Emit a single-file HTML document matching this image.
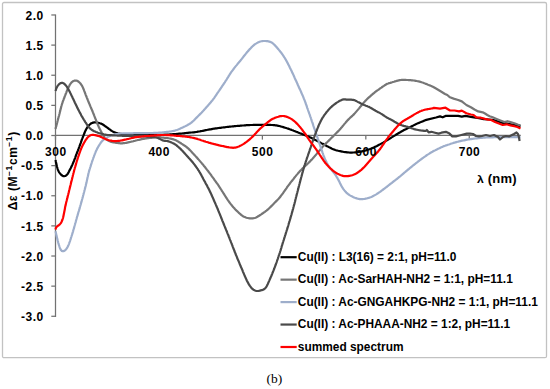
<!DOCTYPE html><html><head><meta charset="utf-8"><style>html,body{margin:0;padding:0;background:#fff;width:550px;height:389px;overflow:hidden}svg{display:block}</style></head><body>
<svg width="550" height="389" viewBox="0 0 550 389">
<rect x="0" y="0" width="550" height="389" fill="#fff"/>
<rect x="2.5" y="2.5" width="544" height="355.2" rx="1.5" fill="none" stroke="#c2c2c2" stroke-width="1.3"/>
<g stroke="#727272" stroke-width="1.25" fill="none">
<line x1="55.5" y1="14.38" x2="55.5" y2="316.88"/>
<line x1="51.3" y1="14.98" x2="55.5" y2="14.98"/>
<line x1="51.3" y1="45.11" x2="55.5" y2="45.11"/>
<line x1="51.3" y1="75.24" x2="55.5" y2="75.24"/>
<line x1="51.3" y1="105.37" x2="55.5" y2="105.37"/>
<line x1="51.3" y1="135.50" x2="55.5" y2="135.50"/>
<line x1="51.3" y1="165.63" x2="55.5" y2="165.63"/>
<line x1="51.3" y1="195.76" x2="55.5" y2="195.76"/>
<line x1="51.3" y1="225.89" x2="55.5" y2="225.89"/>
<line x1="51.3" y1="256.02" x2="55.5" y2="256.02"/>
<line x1="51.3" y1="286.15" x2="55.5" y2="286.15"/>
<line x1="51.3" y1="316.28" x2="55.5" y2="316.28"/>
<line x1="55.5" y1="135.4" x2="520.8" y2="135.4"/>
<line x1="55.50" y1="135.4" x2="55.50" y2="139.6"/>
<line x1="158.94" y1="135.4" x2="158.94" y2="139.6"/>
<line x1="262.38" y1="135.4" x2="262.38" y2="139.6"/>
<line x1="365.82" y1="135.4" x2="365.82" y2="139.6"/>
<line x1="469.26" y1="135.4" x2="469.26" y2="139.6"/>
</g>
<g fill="none" stroke-width="2.2" stroke-linejoin="round" stroke-linecap="butt">
<path d="M55.5,160.0 L55.8,161.2 L55.9,162.0 L56.1,162.9 L56.4,163.9 L56.6,164.9 L56.8,165.9 L57.0,166.8 L57.3,167.8 L57.6,168.8 L57.9,169.7 L58.3,170.6 L58.7,171.5 L59.2,172.4 L59.8,173.2 L60.4,173.9 L61.1,174.7 L61.8,175.3 L62.6,175.8 L63.4,176.2 L64.3,176.2 L65.2,176.0 L66.0,175.6 L66.7,175.0 L67.4,174.3 L67.9,173.5 L68.4,172.6 L68.9,171.7 L69.3,170.8 L69.8,169.9 L70.2,169.1 L70.7,168.2 L71.1,167.3 L71.6,166.4 L72.0,165.5 L72.4,164.6 L72.8,163.6 L73.2,162.7 L73.6,161.8 L74.0,160.9 L74.3,159.9 L74.7,159.0 L75.1,158.1 L75.4,157.1 L75.7,156.2 L76.1,155.3 L76.4,154.3 L76.8,153.4 L77.1,152.4 L77.5,151.5 L77.9,150.6 L78.2,149.6 L78.6,148.7 L78.9,147.8 L79.3,146.8 L79.6,145.9 L80.0,145.0 L80.3,144.0 L80.7,143.1 L81.0,142.1 L81.3,141.2 L81.7,140.3 L82.0,139.3 L82.4,138.4 L82.7,137.5 L83.1,136.5 L83.5,135.6 L83.8,134.7 L84.2,133.7 L84.6,132.8 L84.9,131.9 L85.3,131.0 L85.8,130.1 L86.2,129.2 L86.7,128.3 L87.2,127.5 L87.8,126.6 L88.4,125.9 L89.1,125.1 L89.8,124.5 L90.6,123.8 L91.4,123.3 L92.3,122.9 L93.2,122.6 L94.2,122.4 L95.2,122.3 L96.2,122.4 L97.2,122.5 L98.1,122.7 L99.1,123.0 L100.0,123.3 L101.0,123.6 L101.9,124.0 L102.8,124.5 L103.6,125.0 L104.4,125.6 L105.2,126.2 L106.0,126.7 L106.9,127.3 L107.7,127.9 L108.4,128.5 L109.2,129.1 L110.1,129.7 L110.9,130.3 L111.7,130.9 L112.6,131.4 L113.4,131.8 L114.3,132.3 L115.3,132.6 L116.2,133.0 L117.2,133.2 L118.1,133.5 L119.1,133.6 L120.1,133.8 L121.1,133.9 L122.1,134.0 L123.1,134.0 L124.1,134.1 L125.1,134.1 L126.1,134.2 L127.1,134.2 L128.1,134.2 L129.1,134.3 L130.1,134.3 L131.1,134.3 L132.1,134.4 L133.1,134.4 L134.1,134.4 L135.1,134.4 L136.1,134.4 L137.1,134.5 L138.1,134.5 L139.1,134.5 L140.1,134.5 L141.1,134.5 L142.1,134.5 L143.1,134.6 L144.1,134.6 L145.1,134.6 L146.1,134.6 L147.1,134.7 L148.1,134.7 L149.1,134.7 L150.1,134.8 L151.1,134.8 L152.1,134.8 L153.1,134.9 L154.1,134.9 L155.1,134.9 L156.1,134.9 L157.1,134.9 L158.1,134.9 L159.1,134.9 L160.1,134.9 L161.1,134.9 L162.1,134.8 L163.1,134.8 L164.1,134.7 L165.1,134.7 L166.1,134.6 L167.1,134.6 L168.1,134.5 L169.1,134.5 L170.1,134.4 L171.1,134.3 L172.1,134.3 L173.1,134.2 L174.1,134.1 L175.1,134.0 L176.0,134.0 L177.0,133.9 L178.0,133.8 L179.0,133.7 L180.0,133.6 L181.0,133.6 L182.0,133.5 L183.0,133.4 L184.0,133.3 L185.0,133.1 L186.0,133.0 L187.0,132.9 L188.0,132.8 L189.0,132.7 L190.0,132.6 L191.0,132.5 L192.0,132.5 L193.0,132.4 L194.0,132.3 L195.0,132.2 L195.9,132.0 L196.9,131.9 L197.9,131.7 L198.9,131.5 L199.9,131.4 L200.9,131.2 L201.8,131.0 L202.8,130.8 L203.8,130.6 L204.8,130.4 L205.8,130.2 L206.8,130.0 L207.7,129.8 L208.7,129.6 L209.7,129.4 L210.7,129.3 L211.7,129.1 L212.7,128.9 L213.6,128.7 L214.6,128.6 L215.6,128.4 L216.6,128.3 L217.6,128.2 L218.6,128.0 L219.6,127.9 L220.6,127.8 L221.6,127.6 L222.6,127.5 L223.5,127.4 L224.5,127.3 L225.5,127.2 L226.5,127.0 L227.5,126.9 L228.5,126.8 L229.5,126.7 L230.5,126.6 L231.5,126.5 L232.5,126.4 L233.5,126.3 L234.5,126.2 L235.5,126.1 L236.5,126.0 L237.5,125.9 L238.5,125.9 L239.5,125.8 L240.5,125.7 L241.5,125.6 L242.5,125.5 L243.5,125.5 L244.4,125.4 L245.4,125.3 L246.4,125.2 L247.4,125.2 L248.4,125.1 L249.4,125.1 L250.4,125.0 L251.4,125.0 L252.4,125.0 L253.4,124.9 L254.4,124.9 L255.4,124.9 L256.4,124.9 L257.4,124.8 L258.4,124.8 L259.4,124.8 L260.4,124.8 L261.4,124.8 L262.4,124.8 L263.4,124.8 L264.4,124.9 L265.4,124.9 L266.4,124.9 L267.4,124.9 L268.4,124.9 L269.4,124.9 L270.4,124.9 L271.4,125.0 L272.4,125.0 L273.4,125.1 L274.4,125.2 L275.4,125.3 L276.4,125.4 L277.4,125.6 L278.4,125.8 L279.3,126.0 L280.3,126.3 L281.3,126.6 L282.2,126.8 L283.2,127.1 L284.1,127.4 L285.1,127.7 L286.1,128.0 L287.0,128.3 L288.0,128.6 L288.9,128.9 L289.8,129.3 L290.8,129.6 L291.7,130.0 L292.7,130.3 L293.6,130.7 L294.5,131.0 L295.5,131.4 L296.4,131.8 L297.3,132.1 L298.2,132.5 L299.2,132.9 L300.1,133.3 L301.0,133.6 L302.0,134.0 L302.9,134.4 L303.8,134.7 L304.8,135.1 L305.7,135.4 L306.6,135.8 L307.6,136.2 L308.5,136.6 L309.4,137.0 L310.3,137.4 L311.2,137.8 L312.1,138.3 L313.0,138.7 L313.9,139.2 L314.7,139.7 L315.6,140.1 L316.5,140.6 L317.4,141.1 L318.3,141.5 L319.2,142.0 L320.1,142.4 L320.9,142.9 L321.8,143.4 L322.7,143.8 L323.6,144.3 L324.5,144.8 L325.4,145.2 L326.3,145.7 L327.1,146.2 L328.0,146.6 L328.9,147.1 L329.8,147.6 L330.7,148.0 L331.6,148.5 L332.5,148.9 L333.4,149.3 L334.3,149.6 L335.3,150.0 L336.2,150.3 L337.2,150.5 L338.2,150.8 L339.1,151.0 L340.1,151.2 L341.1,151.4 L342.1,151.6 L343.0,151.8 L344.0,152.0 L345.0,152.1 L346.0,152.2 L347.0,152.4 L348.0,152.4 L349.0,152.5 L350.0,152.6 L351.0,152.6 L352.0,152.6 L353.0,152.5 L354.0,152.5 L355.0,152.4 L356.0,152.3 L357.0,152.2 L358.0,152.1 L359.0,152.0 L359.9,151.8 L360.9,151.6 L361.9,151.4 L362.9,151.2 L363.9,151.0 L364.8,150.7 L365.8,150.4 L366.7,150.1 L367.7,149.8 L368.6,149.5 L369.6,149.2 L370.5,148.8 L371.4,148.5 L372.4,148.1 L373.3,147.7 L374.2,147.3 L375.1,146.8 L376.0,146.4 L376.9,146.0 L377.8,145.5 L378.7,145.0 L379.5,144.6 L380.4,144.1 L381.3,143.6 L382.2,143.1 L383.1,142.6 L383.9,142.1 L384.8,141.6 L385.6,141.1 L386.5,140.6 L387.3,140.1 L388.2,139.5 L389.0,139.0 L389.9,138.5 L390.7,138.0 L391.6,137.4 L392.5,136.9 L393.3,136.4 L394.2,135.9 L395.0,135.4 L395.9,134.8 L396.7,134.3 L397.6,133.8 L398.4,133.3 L399.3,132.8 L400.2,132.3 L401.0,131.8 L401.9,131.3 L402.8,130.8 L403.6,130.3 L404.5,129.8 L405.4,129.4 L406.3,129.0 L407.2,128.5 L408.1,128.1 L409.0,127.6 L409.9,127.2 L410.8,126.7 L411.7,126.3 L412.6,125.8 L413.5,125.4 L414.4,124.9 L415.3,124.5 L416.2,124.1 L417.1,123.6 L418.0,123.2 L418.9,122.9 L419.8,122.5 L420.8,122.1 L421.7,121.7 L422.6,121.4 L423.5,121.0 L424.4,120.6 L425.2,120.3 L426.3,119.9 L436.00,117.50 L440.00,116.40 L442.70,117.30 L445.50,115.90 L450.90,115.90 L458.20,115.90 L461.80,116.60 L465.50,115.90 L470.90,116.80 L475.50,117.70 L479.10,118.20 L483.60,119.10 L489.10,119.50 L492.70,119.80 L500.40,122.30 L508.10,123.90 L515.80,125.40 L520.50,126.40" stroke="#000000"/>
<path d="M55.5,129.0 L55.8,127.8 L56.0,127.0 L56.3,126.1 L56.5,125.1 L56.8,124.2 L57.0,123.2 L57.3,122.2 L57.5,121.3 L57.8,120.3 L58.0,119.3 L58.3,118.4 L58.5,117.4 L58.8,116.4 L59.1,115.5 L59.3,114.5 L59.6,113.5 L59.8,112.6 L60.0,111.6 L60.3,110.6 L60.5,109.6 L60.8,108.7 L61.0,107.7 L61.2,106.7 L61.5,105.8 L61.8,104.8 L62.1,103.8 L62.4,102.9 L62.7,101.9 L63.0,101.0 L63.4,100.1 L63.7,99.1 L64.1,98.2 L64.5,97.3 L64.8,96.3 L65.2,95.4 L65.5,94.5 L65.9,93.5 L66.3,92.6 L66.6,91.7 L67.0,90.7 L67.4,89.8 L67.8,88.9 L68.2,88.0 L68.6,87.1 L69.1,86.2 L69.5,85.3 L70.0,84.5 L70.6,83.6 L71.2,82.8 L71.9,82.1 L72.6,81.5 L73.5,81.0 L74.3,80.7 L75.3,80.5 L76.2,80.6 L77.1,80.8 L77.9,81.3 L78.7,81.8 L79.5,82.5 L80.2,83.2 L80.8,84.0 L81.4,84.8 L81.9,85.6 L82.4,86.5 L82.8,87.4 L83.2,88.3 L83.6,89.2 L84.0,90.1 L84.3,91.1 L84.7,92.0 L85.0,93.0 L85.4,93.9 L85.7,94.8 L86.1,95.8 L86.5,96.7 L86.8,97.6 L87.2,98.5 L87.6,99.5 L87.9,100.4 L88.3,101.3 L88.7,102.3 L89.1,103.2 L89.5,104.1 L89.8,105.0 L90.2,105.9 L90.6,106.9 L91.0,107.8 L91.4,108.7 L91.8,109.6 L92.2,110.5 L92.6,111.5 L92.9,112.4 L93.3,113.3 L93.7,114.3 L94.1,115.2 L94.4,116.1 L94.8,117.1 L95.1,118.0 L95.5,118.9 L95.9,119.8 L96.2,120.8 L96.6,121.7 L97.0,122.6 L97.3,123.6 L97.7,124.5 L98.1,125.4 L98.5,126.3 L98.9,127.2 L99.3,128.1 L99.8,129.0 L100.2,129.9 L100.7,130.8 L101.2,131.7 L101.7,132.6 L102.2,133.4 L102.7,134.3 L103.2,135.1 L103.8,136.0 L104.3,136.8 L104.9,137.6 L105.6,138.4 L106.2,139.1 L107.0,139.7 L107.8,140.3 L108.6,140.8 L109.5,141.2 L110.5,141.6 L111.4,141.9 L112.4,142.1 L113.4,142.3 L114.3,142.5 L115.3,142.7 L116.3,142.9 L117.3,143.0 L118.3,143.1 L119.3,143.2 L120.3,143.3 L121.3,143.3 L122.3,143.3 L123.3,143.2 L124.3,143.1 L125.2,143.0 L126.2,142.8 L127.2,142.6 L128.2,142.4 L129.2,142.2 L130.1,142.0 L131.1,141.7 L132.1,141.5 L133.1,141.3 L134.0,141.0 L135.0,140.8 L136.0,140.5 L136.9,140.3 L137.9,140.0 L138.9,139.8 L139.9,139.6 L140.8,139.4 L141.8,139.2 L142.8,139.0 L143.8,138.8 L144.8,138.7 L145.8,138.5 L146.7,138.4 L147.7,138.2 L148.7,138.1 L149.7,138.0 L150.7,137.9 L151.7,137.8 L152.7,137.7 L153.7,137.6 L154.7,137.5 L155.7,137.5 L156.7,137.4 L157.7,137.4 L158.7,137.4 L159.7,137.4 L160.7,137.4 L161.7,137.5 L162.7,137.6 L163.7,137.7 L164.7,137.8 L165.7,137.9 L166.7,138.0 L167.7,138.1 L168.6,138.3 L169.6,138.5 L170.6,138.7 L171.6,138.9 L172.5,139.1 L173.5,139.4 L174.4,139.7 L175.4,140.1 L176.3,140.5 L177.2,141.0 L178.0,141.4 L178.9,142.0 L179.7,142.5 L180.6,143.0 L181.4,143.6 L182.3,144.1 L183.1,144.7 L183.9,145.2 L184.8,145.8 L185.6,146.3 L186.4,146.9 L187.2,147.6 L187.9,148.2 L188.7,148.9 L189.4,149.6 L190.1,150.3 L190.8,151.0 L191.5,151.7 L192.1,152.5 L192.8,153.2 L193.5,153.9 L194.2,154.7 L194.9,155.4 L195.5,156.1 L196.2,156.9 L196.9,157.6 L197.5,158.4 L198.2,159.1 L198.9,159.9 L199.5,160.6 L200.2,161.4 L200.8,162.1 L201.5,162.9 L202.1,163.7 L202.8,164.4 L203.4,165.2 L204.0,166.0 L204.7,166.8 L205.3,167.5 L205.9,168.3 L206.5,169.1 L207.1,169.9 L207.8,170.7 L208.4,171.5 L209.0,172.3 L209.6,173.1 L210.2,173.9 L210.8,174.7 L211.4,175.5 L211.9,176.3 L212.5,177.1 L213.1,177.9 L213.7,178.7 L214.3,179.6 L214.8,180.4 L215.4,181.2 L216.0,182.0 L216.6,182.8 L217.2,183.6 L217.8,184.4 L218.3,185.2 L218.9,186.1 L219.4,186.9 L220.0,187.8 L220.5,188.6 L221.1,189.4 L221.6,190.3 L222.1,191.1 L222.7,192.0 L223.2,192.8 L223.7,193.7 L224.3,194.5 L224.8,195.4 L225.3,196.2 L225.9,197.1 L226.4,197.9 L226.9,198.7 L227.5,199.6 L228.1,200.4 L228.6,201.2 L229.2,202.0 L229.8,202.8 L230.4,203.6 L231.0,204.4 L231.7,205.2 L232.3,206.0 L232.9,206.7 L233.6,207.5 L234.3,208.2 L234.9,209.0 L235.6,209.7 L236.3,210.4 L237.1,211.1 L237.8,211.8 L238.5,212.5 L239.2,213.2 L240.0,213.8 L240.7,214.5 L241.5,215.1 L242.3,215.7 L243.1,216.2 L244.0,216.7 L244.9,217.1 L245.8,217.5 L246.8,217.8 L247.8,218.0 L248.7,218.2 L249.7,218.3 L250.7,218.4 L251.7,218.4 L252.7,218.3 L253.7,218.2 L254.6,218.0 L255.6,217.7 L256.5,217.3 L257.4,216.8 L258.2,216.3 L259.1,215.8 L259.9,215.2 L260.7,214.7 L261.6,214.1 L262.4,213.5 L263.2,213.0 L264.0,212.4 L264.9,211.8 L265.7,211.2 L266.5,210.6 L267.2,210.0 L268.0,209.4 L268.7,208.7 L269.5,208.0 L270.2,207.3 L270.9,206.6 L271.6,205.9 L272.3,205.2 L273.0,204.5 L273.7,203.7 L274.4,203.0 L275.1,202.3 L275.8,201.6 L276.5,200.9 L277.2,200.2 L277.9,199.5 L278.6,198.8 L279.3,198.0 L279.9,197.3 L280.5,196.5 L281.1,195.7 L281.7,194.9 L282.3,194.1 L282.9,193.3 L283.5,192.4 L284.0,191.6 L284.6,190.8 L285.2,190.0 L285.8,189.2 L286.4,188.3 L286.9,187.5 L287.5,186.7 L288.1,185.9 L288.7,185.1 L289.3,184.3 L289.9,183.5 L290.5,182.7 L291.1,181.9 L291.7,181.1 L292.4,180.4 L293.0,179.6 L293.6,178.8 L294.2,178.0 L294.8,177.2 L295.5,176.4 L296.1,175.6 L296.7,174.9 L297.4,174.1 L298.0,173.3 L298.7,172.6 L299.3,171.8 L300.0,171.1 L300.7,170.4 L301.4,169.7 L302.1,168.9 L302.8,168.2 L303.5,167.6 L304.2,166.9 L305.0,166.2 L305.7,165.5 L306.4,164.8 L307.2,164.1 L307.9,163.5 L308.6,162.8 L309.3,162.1 L310.0,161.4 L310.7,160.6 L311.4,159.9 L312.1,159.2 L312.8,158.4 L313.4,157.7 L314.1,156.9 L314.7,156.2 L315.4,155.4 L316.0,154.7 L316.7,153.9 L317.3,153.1 L318.0,152.4 L318.6,151.6 L319.3,150.8 L319.9,150.1 L320.5,149.3 L321.1,148.5 L321.8,147.7 L322.4,147.0 L323.1,146.3 L323.8,145.5 L324.5,144.8 L325.2,144.1 L325.9,143.4 L326.7,142.7 L327.4,142.0 L328.1,141.3 L328.8,140.6 L329.5,139.9 L330.2,139.2 L330.9,138.5 L331.6,137.8 L332.3,137.1 L333.0,136.4 L333.7,135.7 L334.5,135.0 L335.2,134.2 L335.9,133.5 L336.6,132.8 L337.3,132.1 L338.0,131.4 L338.7,130.7 L339.4,130.0 L340.0,129.2 L340.7,128.5 L341.3,127.7 L342.0,127.0 L342.6,126.2 L343.3,125.4 L343.9,124.6 L344.5,123.9 L345.2,123.1 L345.8,122.3 L346.5,121.6 L347.1,120.8 L347.8,120.1 L348.5,119.4 L349.2,118.7 L349.9,118.0 L350.6,117.3 L351.4,116.6 L352.2,116.0 L352.9,115.3 L353.6,114.6 L354.3,113.9 L355.0,113.1 L355.6,112.4 L356.3,111.6 L356.9,110.9 L357.6,110.1 L358.2,109.4 L358.9,108.6 L359.5,107.8 L360.1,107.0 L360.8,106.3 L361.4,105.5 L362.0,104.7 L362.6,103.9 L363.3,103.2 L363.9,102.4 L364.6,101.7 L365.3,100.9 L366.0,100.2 L366.7,99.5 L367.4,98.8 L368.1,98.1 L368.9,97.4 L369.6,96.8 L370.4,96.1 L371.1,95.4 L371.9,94.8 L372.6,94.1 L373.4,93.5 L374.2,92.9 L374.9,92.2 L375.7,91.6 L376.5,91.0 L377.4,90.4 L378.2,89.9 L379.0,89.3 L379.8,88.7 L380.6,88.1 L381.4,87.6 L382.2,87.0 L383.1,86.4 L383.9,85.9 L384.7,85.3 L385.6,84.8 L386.4,84.3 L387.3,83.8 L388.3,83.5 L389.2,83.1 L390.2,82.9 L391.1,82.6 L392.1,82.3 L393.0,82.0 L394.0,81.7 L394.9,81.4 L395.9,81.1 L396.8,80.8 L397.8,80.6 L398.8,80.4 L399.8,80.2 L400.7,80.0 L401.7,79.9 L402.7,79.8 L403.7,79.8 L404.7,79.8 L405.7,79.9 L406.7,80.0 L407.7,80.0 L408.7,80.1 L409.7,80.2 L410.7,80.2 L411.7,80.3 L412.7,80.4 L413.7,80.5 L414.7,80.6 L415.7,80.8 L416.7,81.0 L417.6,81.2 L418.6,81.4 L419.6,81.6 L420.5,81.9 L421.5,82.2 L422.4,82.5 L423.4,82.8 L424.3,83.2 L425.3,83.6 L426.2,83.9 L427.1,84.3 L428.0,84.7 L429.0,85.1 L429.9,85.4 L430.8,85.8 L431.6,86.1 L432.2,86.4 L432.9,86.7 L436.00,88.50 L441.00,91.50 L445.00,94.00 L447.30,95.00 L450.00,97.30 L453.60,98.60 L458.20,100.00 L461.80,101.40 L466.40,105.00 L470.90,107.30 L474.50,109.50 L478.20,111.40 L482.70,112.30 L485.00,113.50 L487.30,115.00 L489.60,116.20 L492.70,117.30 L496.60,118.90 L500.40,120.40 L504.30,122.00 L507.40,121.20 L511.20,122.30 L515.10,123.50 L518.20,124.70 L520.50,125.40" stroke="#767676"/>
<path d="M55.5,231.3 L55.8,232.5 L56.0,233.3 L56.2,234.2 L56.4,235.2 L56.6,236.2 L56.9,237.1 L57.1,238.1 L57.3,239.1 L57.6,240.1 L57.8,241.0 L58.1,242.0 L58.3,243.0 L58.6,243.9 L58.9,244.9 L59.2,245.8 L59.5,246.8 L59.8,247.7 L60.2,248.6 L60.6,249.5 L61.2,250.3 L61.8,250.9 L62.6,251.2 L63.4,251.2 L64.2,250.9 L65.0,250.3 L65.7,249.7 L66.4,248.9 L66.9,248.1 L67.4,247.3 L67.9,246.4 L68.3,245.5 L68.7,244.6 L69.1,243.6 L69.4,242.7 L69.8,241.7 L70.1,240.8 L70.4,239.8 L70.7,238.9 L71.0,237.9 L71.3,237.0 L71.6,236.0 L71.9,235.1 L72.2,234.1 L72.5,233.2 L72.8,232.2 L73.1,231.3 L73.3,230.3 L73.6,229.3 L73.9,228.4 L74.2,227.4 L74.4,226.4 L74.7,225.5 L75.0,224.5 L75.2,223.5 L75.5,222.6 L75.8,221.6 L76.0,220.7 L76.3,219.7 L76.6,218.7 L76.8,217.8 L77.1,216.8 L77.4,215.9 L77.7,214.9 L78.0,213.9 L78.2,213.0 L78.5,212.0 L78.8,211.1 L79.1,210.1 L79.4,209.1 L79.7,208.2 L79.9,207.2 L80.2,206.3 L80.5,205.3 L80.8,204.3 L81.0,203.4 L81.3,202.4 L81.6,201.4 L81.8,200.5 L82.1,199.5 L82.4,198.5 L82.6,197.6 L82.9,196.6 L83.1,195.7 L83.4,194.7 L83.6,193.7 L83.9,192.8 L84.2,191.8 L84.4,190.8 L84.7,189.8 L84.9,188.9 L85.2,187.9 L85.4,186.9 L85.7,186.0 L85.9,185.0 L86.1,184.0 L86.4,183.1 L86.6,182.1 L86.8,181.1 L87.0,180.1 L87.2,179.2 L87.4,178.2 L87.6,177.2 L87.9,176.2 L88.1,175.2 L88.3,174.3 L88.5,173.3 L88.8,172.3 L89.0,171.4 L89.3,170.4 L89.6,169.4 L89.9,168.5 L90.2,167.5 L90.5,166.6 L90.8,165.6 L91.1,164.7 L91.4,163.7 L91.7,162.8 L92.0,161.8 L92.3,160.9 L92.7,159.9 L93.0,159.0 L93.3,158.0 L93.7,157.1 L94.0,156.2 L94.4,155.2 L94.7,154.3 L95.1,153.4 L95.5,152.4 L95.8,151.5 L96.2,150.6 L96.7,149.7 L97.1,148.8 L97.6,147.9 L98.1,147.0 L98.6,146.2 L99.1,145.3 L99.6,144.5 L100.2,143.6 L100.7,142.8 L101.3,142.0 L102.0,141.2 L102.6,140.5 L103.4,139.9 L104.1,139.2 L104.9,138.6 L105.8,138.1 L106.6,137.6 L107.5,137.1 L108.4,136.7 L109.3,136.3 L110.3,135.9 L111.2,135.5 L112.1,135.2 L113.1,134.9 L114.1,134.7 L115.0,134.4 L116.0,134.2 L117.0,134.0 L118.0,133.9 L119.0,133.7 L120.0,133.6 L120.9,133.5 L121.9,133.5 L122.9,133.4 L123.9,133.4 L124.9,133.3 L125.9,133.3 L126.9,133.3 L127.9,133.3 L128.9,133.3 L129.9,133.3 L130.9,133.3 L131.9,133.3 L132.9,133.3 L133.9,133.2 L134.9,133.2 L135.9,133.2 L136.9,133.2 L137.9,133.2 L138.9,133.2 L139.9,133.2 L140.9,133.2 L141.9,133.1 L142.9,133.1 L143.9,133.1 L144.9,133.1 L145.9,133.1 L146.9,133.1 L147.9,133.1 L148.9,133.0 L149.9,133.0 L150.9,133.0 L151.9,133.0 L152.9,133.0 L153.9,132.9 L154.9,132.9 L155.9,132.9 L156.9,132.8 L157.9,132.8 L158.9,132.7 L159.9,132.6 L160.9,132.6 L161.9,132.5 L162.9,132.4 L163.9,132.3 L164.9,132.2 L165.9,132.1 L166.9,131.9 L167.9,131.8 L168.9,131.7 L169.9,131.5 L170.9,131.4 L171.8,131.2 L172.8,131.0 L173.8,130.8 L174.8,130.6 L175.7,130.3 L176.7,130.0 L177.6,129.7 L178.6,129.3 L179.5,128.9 L180.4,128.5 L181.3,128.1 L182.2,127.7 L183.1,127.3 L184.0,126.8 L184.9,126.4 L185.8,125.9 L186.7,125.5 L187.6,125.0 L188.4,124.5 L189.3,124.0 L190.1,123.5 L191.0,122.9 L191.7,122.3 L192.5,121.6 L193.2,121.0 L194.0,120.3 L194.7,119.6 L195.4,118.8 L196.1,118.1 L196.8,117.4 L197.5,116.7 L198.2,116.0 L198.9,115.3 L199.6,114.6 L200.3,113.9 L201.0,113.2 L201.7,112.5 L202.4,111.7 L203.1,111.0 L203.8,110.3 L204.4,109.5 L205.1,108.8 L205.8,108.0 L206.4,107.3 L207.1,106.5 L207.8,105.8 L208.4,105.0 L209.1,104.3 L209.7,103.5 L210.4,102.8 L211.0,102.0 L211.6,101.2 L212.3,100.5 L212.9,99.7 L213.5,98.9 L214.1,98.1 L214.7,97.2 L215.2,96.4 L215.8,95.6 L216.3,94.8 L216.9,93.9 L217.4,93.1 L218.0,92.3 L218.6,91.4 L219.2,90.6 L219.7,89.8 L220.3,89.0 L220.9,88.2 L221.4,87.3 L222.0,86.5 L222.5,85.7 L223.1,84.8 L223.7,84.0 L224.2,83.2 L224.8,82.3 L225.3,81.5 L225.8,80.7 L226.4,79.8 L226.9,79.0 L227.4,78.1 L228.0,77.3 L228.5,76.4 L229.0,75.6 L229.6,74.7 L230.1,73.9 L230.6,73.1 L231.2,72.2 L231.8,71.4 L232.4,70.6 L233.0,69.8 L233.6,69.0 L234.2,68.2 L234.8,67.4 L235.4,66.6 L236.0,65.9 L236.7,65.1 L237.3,64.3 L237.9,63.5 L238.6,62.8 L239.2,62.0 L239.9,61.2 L240.5,60.5 L241.1,59.7 L241.8,58.9 L242.4,58.1 L243.0,57.3 L243.6,56.5 L244.2,55.8 L244.8,55.0 L245.5,54.2 L246.1,53.4 L246.7,52.6 L247.4,51.9 L248.0,51.1 L248.7,50.4 L249.3,49.6 L250.0,48.9 L250.7,48.2 L251.4,47.4 L252.1,46.7 L252.8,46.0 L253.6,45.4 L254.4,44.7 L255.1,44.1 L256.0,43.6 L256.8,43.1 L257.7,42.6 L258.6,42.2 L259.5,41.8 L260.5,41.5 L261.4,41.3 L262.4,41.1 L263.4,41.0 L264.4,41.0 L265.4,41.0 L266.4,41.1 L267.4,41.2 L268.4,41.4 L269.3,41.6 L270.3,41.9 L271.2,42.3 L272.0,42.7 L272.8,43.3 L273.6,44.0 L274.3,44.7 L275.0,45.4 L275.7,46.1 L276.3,46.9 L277.0,47.6 L277.6,48.4 L278.3,49.1 L278.9,49.9 L279.6,50.7 L280.2,51.5 L280.8,52.2 L281.4,53.0 L282.0,53.8 L282.6,54.7 L283.2,55.5 L283.7,56.3 L284.2,57.1 L284.8,58.0 L285.3,58.9 L285.8,59.7 L286.3,60.6 L286.8,61.5 L287.2,62.4 L287.7,63.2 L288.1,64.1 L288.6,65.0 L289.1,65.9 L289.5,66.8 L289.9,67.7 L290.4,68.6 L290.8,69.5 L291.3,70.4 L291.7,71.3 L292.1,72.2 L292.5,73.1 L293.0,74.0 L293.4,74.9 L293.8,75.8 L294.2,76.7 L294.6,77.7 L295.0,78.6 L295.4,79.5 L295.8,80.4 L296.3,81.3 L296.7,82.2 L297.1,83.1 L297.5,84.0 L297.9,85.0 L298.3,85.9 L298.7,86.8 L299.1,87.7 L299.5,88.6 L300.0,89.5 L300.4,90.4 L300.8,91.3 L301.2,92.3 L301.6,93.2 L302.0,94.1 L302.4,95.0 L302.8,95.9 L303.2,96.8 L303.6,97.8 L303.9,98.7 L304.3,99.6 L304.7,100.5 L305.0,101.5 L305.4,102.4 L305.7,103.4 L306.0,104.3 L306.4,105.2 L306.7,106.2 L307.0,107.1 L307.3,108.1 L307.7,109.0 L308.0,110.0 L308.3,110.9 L308.7,111.9 L309.0,112.8 L309.3,113.7 L309.7,114.7 L310.0,115.6 L310.3,116.6 L310.7,117.5 L311.0,118.5 L311.3,119.4 L311.6,120.4 L311.9,121.3 L312.3,122.3 L312.6,123.2 L312.9,124.2 L313.2,125.1 L313.5,126.1 L313.8,127.0 L314.1,128.0 L314.5,128.9 L314.8,129.8 L315.1,130.8 L315.4,131.7 L315.7,132.7 L316.1,133.6 L316.4,134.6 L316.7,135.5 L317.0,136.5 L317.4,137.4 L317.7,138.4 L318.0,139.3 L318.3,140.3 L318.7,141.2 L319.0,142.1 L319.3,143.1 L319.7,144.0 L320.0,145.0 L320.3,145.9 L320.6,146.9 L320.9,147.8 L321.3,148.8 L321.6,149.7 L321.9,150.7 L322.2,151.6 L322.5,152.6 L322.9,153.5 L323.2,154.5 L323.5,155.4 L323.9,156.3 L324.2,157.3 L324.6,158.2 L325.0,159.1 L325.4,160.0 L325.8,160.9 L326.3,161.8 L326.7,162.7 L327.2,163.6 L327.7,164.4 L328.2,165.3 L328.8,166.1 L329.3,167.0 L329.9,167.8 L330.5,168.6 L331.1,169.4 L331.7,170.2 L332.4,170.9 L333.0,171.7 L333.6,172.5 L334.3,173.3 L334.9,174.1 L335.4,174.9 L336.0,175.7 L336.5,176.6 L337.0,177.4 L337.5,178.3 L338.0,179.2 L338.5,180.1 L338.9,180.9 L339.4,181.8 L339.8,182.7 L340.2,183.6 L340.7,184.5 L341.1,185.4 L341.6,186.3 L342.1,187.2 L342.7,188.0 L343.2,188.8 L343.8,189.6 L344.4,190.4 L345.1,191.2 L345.7,191.9 L346.4,192.6 L347.2,193.3 L347.9,193.9 L348.7,194.5 L349.6,195.1 L350.4,195.6 L351.3,196.1 L352.2,196.5 L353.1,197.0 L354.0,197.4 L354.9,197.8 L355.9,198.1 L356.8,198.4 L357.8,198.7 L358.7,198.9 L359.7,199.1 L360.7,199.1 L361.7,199.2 L362.7,199.1 L363.7,199.0 L364.7,198.9 L365.7,198.7 L366.6,198.5 L367.6,198.2 L368.6,198.0 L369.5,197.6 L370.4,197.3 L371.4,196.9 L372.3,196.5 L373.2,196.0 L374.0,195.6 L374.9,195.1 L375.8,194.6 L376.6,194.1 L377.5,193.5 L378.3,193.0 L379.2,192.4 L380.0,191.9 L380.8,191.3 L381.6,190.7 L382.4,190.1 L383.2,189.5 L384.0,188.9 L384.8,188.3 L385.6,187.7 L386.4,187.1 L387.2,186.5 L388.0,185.8 L388.8,185.2 L389.5,184.6 L390.3,184.0 L391.1,183.4 L391.9,182.8 L392.7,182.1 L393.5,181.5 L394.3,180.9 L395.1,180.3 L395.9,179.7 L396.7,179.1 L397.5,178.5 L398.2,177.9 L399.0,177.2 L399.8,176.6 L400.5,176.0 L401.3,175.3 L402.1,174.7 L402.8,174.0 L403.6,173.4 L404.3,172.7 L405.1,172.1 L405.9,171.4 L406.6,170.8 L407.4,170.1 L408.2,169.5 L409.0,168.9 L409.7,168.2 L410.5,167.6 L411.3,167.0 L412.1,166.3 L412.8,165.7 L413.6,165.1 L414.4,164.5 L415.2,163.8 L416.0,163.2 L416.8,162.6 L417.5,162.0 L418.3,161.4 L419.1,160.8 L419.9,160.2 L420.7,159.6 L421.5,159.0 L422.3,158.4 L423.1,157.8 L424.0,157.2 L424.8,156.6 L425.6,156.1 L426.4,155.5 L427.2,154.9 L428.1,154.4 L428.9,153.9 L429.8,153.3 L430.6,152.8 L431.5,152.3 L432.4,151.8 L433.2,151.3 L434.1,150.8 L435.0,150.4 L435.9,149.9 L436.8,149.5 L437.7,149.0 L438.6,148.6 L439.5,148.2 L440.4,147.7 L441.3,147.3 L442.2,146.9 L443.1,146.5 L444.0,146.1 L445.0,145.8 L445.9,145.4 L446.9,145.1 L447.8,144.8 L448.8,144.5 L449.7,144.2 L450.7,143.8 L451.6,143.5 L452.6,143.2 L453.5,142.9 L454.5,142.7 L455.4,142.4 L456.4,142.1 L457.4,141.8 L458.3,141.6 L459.3,141.3 L460.3,141.1 L461.2,140.9 L462.2,140.7 L463.2,140.5 L464.2,140.3 L465.2,140.1 L466.1,139.9 L467.1,139.7 L468.1,139.5 L469.1,139.4 L470.1,139.2 L471.1,139.1 L472.1,138.9 L473.1,138.8 L474.0,138.6 L475.0,138.5 L476.0,138.4 L477.0,138.3 L478.0,138.2 L479.0,138.1 L480.0,138.0 L481.0,137.9 L482.0,137.8 L483.0,137.7 L484.0,137.6 L485.0,137.6 L486.0,137.5 L487.0,137.4 L488.0,137.4 L489.0,137.4 L490.0,137.3 L491.0,137.3 L492.0,137.3 L493.0,137.3 L494.0,137.2 L495.0,137.2 L496.0,137.2 L497.0,137.2 L498.0,137.2 L499.0,137.2 L500.0,137.2 L501.0,137.2 L502.0,137.2 L503.0,137.2 L504.0,137.2 L505.0,137.2 L506.0,137.2 L507.0,137.2 L508.0,137.2 L509.0,137.2 L510.0,137.2 L511.0,137.2 L512.0,137.2 L513.0,137.2 L514.0,137.2 L515.0,137.2 L516.0,137.2 L517.0,137.2 L517.9,137.2 L518.8,137.2 L519.6,137.2 L520.5,137.2" stroke="#9eaecb"/>
<path d="M55.5,91.0 L55.9,89.8 L56.1,89.0 L56.5,88.1 L56.9,87.3 L57.3,86.4 L57.9,85.6 L58.5,84.8 L59.2,84.1 L60.0,83.5 L60.8,83.1 L61.7,82.9 L62.5,82.9 L63.4,83.2 L64.2,83.7 L64.9,84.4 L65.6,85.1 L66.2,85.9 L66.8,86.7 L67.3,87.5 L67.8,88.4 L68.3,89.2 L68.8,90.1 L69.3,91.0 L69.8,91.9 L70.2,92.8 L70.7,93.7 L71.1,94.6 L71.5,95.5 L72.0,96.4 L72.4,97.3 L72.8,98.2 L73.3,99.1 L73.7,100.0 L74.1,100.9 L74.5,101.8 L74.9,102.7 L75.4,103.6 L75.8,104.5 L76.2,105.4 L76.7,106.3 L77.1,107.2 L77.5,108.1 L78.0,109.0 L78.4,109.9 L78.9,110.8 L79.4,111.7 L79.8,112.6 L80.3,113.4 L80.8,114.3 L81.2,115.2 L81.7,116.1 L82.2,116.9 L82.7,117.8 L83.2,118.7 L83.7,119.5 L84.3,120.4 L84.8,121.2 L85.3,122.1 L85.9,122.9 L86.4,123.7 L87.0,124.6 L87.5,125.4 L88.1,126.2 L88.7,127.0 L89.4,127.8 L90.1,128.4 L90.8,129.1 L91.6,129.7 L92.5,130.2 L93.3,130.7 L94.2,131.2 L95.1,131.6 L96.0,132.0 L97.0,132.3 L97.9,132.7 L98.9,133.0 L99.8,133.2 L100.8,133.5 L101.8,133.8 L102.7,134.0 L103.7,134.3 L104.7,134.5 L105.7,134.7 L106.6,134.8 L107.6,135.0 L108.6,135.0 L109.6,135.1 L110.6,135.2 L111.6,135.2 L112.6,135.3 L113.6,135.3 L114.6,135.4 L115.6,135.5 L116.6,135.5 L117.6,135.6 L118.6,135.6 L119.6,135.7 L120.6,135.7 L121.6,135.7 L122.6,135.8 L123.6,135.8 L124.6,135.9 L125.6,135.9 L126.6,135.9 L127.6,136.0 L128.6,136.0 L129.6,136.0 L130.6,136.1 L131.6,136.1 L132.6,136.1 L133.6,136.2 L134.6,136.2 L135.6,136.2 L136.6,136.2 L137.6,136.3 L138.6,136.3 L139.6,136.3 L140.6,136.4 L141.6,136.4 L142.6,136.4 L143.6,136.5 L144.6,136.5 L145.6,136.5 L146.6,136.6 L147.6,136.6 L148.6,136.7 L149.6,136.7 L150.6,136.8 L151.6,136.8 L152.6,136.9 L153.6,137.0 L154.6,137.1 L155.5,137.3 L156.5,137.5 L157.4,137.8 L158.4,138.2 L159.3,138.6 L160.2,139.1 L161.0,139.6 L161.9,140.0 L162.8,140.4 L163.7,140.7 L164.7,140.8 L165.7,140.9 L166.7,141.0 L167.6,141.1 L168.6,141.4 L169.5,141.7 L170.5,142.1 L171.4,142.4 L172.3,142.9 L173.2,143.3 L174.1,143.8 L174.9,144.3 L175.8,144.8 L176.6,145.4 L177.3,146.1 L178.1,146.7 L178.8,147.4 L179.6,148.0 L180.3,148.7 L181.0,149.4 L181.7,150.1 L182.4,150.9 L183.1,151.6 L183.8,152.3 L184.4,153.1 L185.1,153.8 L185.8,154.6 L186.4,155.3 L187.1,156.1 L187.8,156.8 L188.4,157.5 L189.1,158.3 L189.8,159.0 L190.5,159.8 L191.1,160.5 L191.8,161.3 L192.4,162.0 L193.1,162.8 L193.7,163.6 L194.3,164.4 L194.9,165.2 L195.5,166.0 L196.1,166.8 L196.7,167.6 L197.2,168.4 L197.8,169.2 L198.3,170.1 L198.9,170.9 L199.4,171.8 L199.9,172.6 L200.4,173.5 L200.9,174.4 L201.4,175.3 L201.8,176.1 L202.3,177.0 L202.8,177.9 L203.2,178.8 L203.7,179.7 L204.2,180.6 L204.7,181.4 L205.2,182.3 L205.6,183.2 L206.1,184.1 L206.6,184.9 L207.1,185.8 L207.5,186.7 L208.0,187.6 L208.5,188.5 L208.9,189.4 L209.4,190.3 L209.8,191.2 L210.2,192.1 L210.7,193.0 L211.1,193.9 L211.5,194.8 L211.9,195.7 L212.3,196.6 L212.7,197.5 L213.1,198.4 L213.5,199.3 L213.9,200.3 L214.3,201.2 L214.7,202.1 L215.1,203.0 L215.5,203.9 L215.9,204.9 L216.3,205.8 L216.7,206.7 L217.1,207.6 L217.5,208.5 L217.9,209.5 L218.2,210.4 L218.6,211.3 L219.0,212.2 L219.4,213.2 L219.8,214.1 L220.1,215.0 L220.5,215.9 L220.9,216.9 L221.2,217.8 L221.6,218.7 L222.0,219.7 L222.3,220.6 L222.7,221.5 L223.1,222.4 L223.5,223.4 L223.8,224.3 L224.2,225.2 L224.6,226.2 L225.0,227.1 L225.3,228.0 L225.7,228.9 L226.1,229.9 L226.5,230.8 L226.9,231.7 L227.2,232.6 L227.6,233.6 L228.0,234.5 L228.4,235.4 L228.7,236.3 L229.1,237.3 L229.5,238.2 L229.8,239.1 L230.2,240.1 L230.6,241.0 L230.9,241.9 L231.3,242.9 L231.7,243.8 L232.0,244.7 L232.4,245.7 L232.7,246.6 L233.1,247.5 L233.4,248.5 L233.8,249.4 L234.2,250.3 L234.5,251.3 L234.9,252.2 L235.3,253.1 L235.6,254.0 L236.0,255.0 L236.4,255.9 L236.8,256.8 L237.1,257.8 L237.5,258.7 L237.9,259.6 L238.3,260.5 L238.7,261.4 L239.1,262.4 L239.5,263.3 L239.8,264.2 L240.2,265.1 L240.6,266.0 L241.0,267.0 L241.4,267.9 L241.8,268.8 L242.2,269.7 L242.6,270.7 L242.9,271.6 L243.3,272.5 L243.7,273.4 L244.1,274.4 L244.5,275.3 L244.9,276.2 L245.3,277.1 L245.7,278.0 L246.1,278.9 L246.5,279.8 L246.9,280.7 L247.4,281.6 L247.9,282.5 L248.3,283.4 L248.9,284.3 L249.4,285.1 L249.9,285.9 L250.5,286.7 L251.1,287.5 L251.8,288.3 L252.5,288.9 L253.3,289.6 L254.1,290.1 L255.0,290.5 L255.9,290.8 L256.9,291.0 L257.8,291.0 L258.8,290.9 L259.8,290.7 L260.7,290.4 L261.7,290.2 L262.6,289.9 L263.5,289.5 L264.4,289.0 L265.1,288.4 L265.7,287.7 L266.3,286.9 L266.8,286.0 L267.2,285.1 L267.7,284.2 L268.1,283.3 L268.5,282.4 L268.9,281.5 L269.3,280.6 L269.7,279.6 L270.1,278.7 L270.5,277.8 L270.9,276.9 L271.3,276.0 L271.7,275.0 L272.1,274.1 L272.4,273.2 L272.8,272.3 L273.2,271.3 L273.6,270.4 L273.9,269.5 L274.3,268.5 L274.6,267.6 L275.0,266.7 L275.3,265.7 L275.7,264.8 L276.0,263.9 L276.4,262.9 L276.7,262.0 L277.0,261.0 L277.3,260.1 L277.7,259.1 L278.0,258.2 L278.3,257.2 L278.6,256.3 L278.9,255.3 L279.3,254.4 L279.6,253.4 L279.9,252.5 L280.2,251.5 L280.5,250.6 L280.8,249.6 L281.1,248.7 L281.4,247.7 L281.6,246.8 L281.9,245.8 L282.2,244.9 L282.5,243.9 L282.8,242.9 L283.1,242.0 L283.4,241.0 L283.7,240.1 L284.0,239.1 L284.3,238.2 L284.6,237.2 L284.9,236.3 L285.2,235.3 L285.5,234.4 L285.8,233.4 L286.1,232.4 L286.4,231.5 L286.7,230.5 L287.0,229.6 L287.3,228.6 L287.6,227.7 L287.9,226.7 L288.2,225.8 L288.5,224.8 L288.7,223.8 L289.0,222.9 L289.3,221.9 L289.6,221.0 L289.9,220.0 L290.2,219.0 L290.5,218.1 L290.7,217.1 L291.0,216.2 L291.3,215.2 L291.6,214.2 L291.8,213.3 L292.1,212.3 L292.4,211.4 L292.6,210.4 L292.9,209.4 L293.2,208.5 L293.4,207.5 L293.7,206.5 L293.9,205.6 L294.2,204.6 L294.5,203.6 L294.7,202.7 L295.0,201.7 L295.2,200.7 L295.4,199.8 L295.7,198.8 L295.9,197.8 L296.2,196.8 L296.4,195.9 L296.7,194.9 L296.9,193.9 L297.2,193.0 L297.4,192.0 L297.7,191.0 L297.9,190.1 L298.2,189.1 L298.4,188.1 L298.7,187.2 L298.9,186.2 L299.2,185.2 L299.4,184.3 L299.7,183.3 L299.9,182.3 L300.2,181.4 L300.4,180.4 L300.7,179.4 L300.9,178.5 L301.2,177.5 L301.5,176.5 L301.7,175.6 L302.0,174.6 L302.2,173.6 L302.5,172.7 L302.8,171.7 L303.0,170.7 L303.3,169.8 L303.6,168.8 L303.9,167.8 L304.1,166.9 L304.4,165.9 L304.7,165.0 L305.0,164.0 L305.3,163.1 L305.6,162.1 L306.0,161.2 L306.3,160.2 L306.6,159.3 L306.9,158.3 L307.2,157.4 L307.6,156.4 L307.9,155.5 L308.2,154.5 L308.5,153.6 L308.9,152.7 L309.2,151.7 L309.5,150.8 L309.8,149.8 L310.1,148.9 L310.5,147.9 L310.8,147.0 L311.1,146.0 L311.4,145.1 L311.7,144.1 L312.0,143.2 L312.4,142.2 L312.7,141.3 L313.0,140.3 L313.3,139.4 L313.7,138.5 L314.0,137.5 L314.4,136.6 L314.7,135.6 L315.1,134.7 L315.4,133.8 L315.8,132.8 L316.1,131.9 L316.5,131.0 L316.9,130.0 L317.2,129.1 L317.6,128.2 L318.0,127.2 L318.4,126.3 L318.7,125.4 L319.1,124.5 L319.5,123.6 L320.0,122.7 L320.4,121.8 L320.9,120.9 L321.3,120.0 L321.8,119.1 L322.3,118.2 L322.8,117.4 L323.4,116.6 L323.9,115.7 L324.5,114.9 L325.1,114.1 L325.7,113.3 L326.3,112.5 L326.9,111.7 L327.6,111.0 L328.2,110.2 L328.9,109.4 L329.5,108.7 L330.2,108.0 L330.9,107.3 L331.7,106.6 L332.4,105.9 L333.2,105.3 L334.0,104.7 L334.8,104.1 L335.6,103.5 L336.4,102.9 L337.2,102.4 L338.1,101.9 L338.9,101.3 L339.8,100.8 L340.7,100.4 L341.6,100.0 L342.5,99.6 L343.5,99.4 L344.4,99.4 L345.4,99.4 L346.4,99.6 L347.3,99.7 L348.3,99.7 L349.3,99.7 L350.3,99.7 L351.3,99.7 L352.3,99.8 L353.3,99.9 L354.2,100.1 L355.2,100.5 L356.1,100.9 L356.9,101.4 L357.8,101.9 L358.7,102.3 L359.6,102.8 L360.5,103.3 L361.4,103.7 L362.3,104.2 L363.2,104.6 L364.1,105.0 L365.0,105.3 L365.9,105.7 L366.9,106.1 L367.8,106.5 L368.7,106.8 L369.6,107.3 L370.5,107.7 L371.4,108.2 L372.2,108.7 L373.1,109.3 L373.9,109.8 L374.8,110.3 L375.6,110.8 L376.5,111.3 L377.4,111.7 L378.3,112.2 L379.2,112.6 L380.1,113.1 L380.9,113.6 L381.8,114.1 L382.6,114.7 L383.4,115.3 L384.3,115.8 L385.1,116.4 L385.9,116.9 L386.8,117.5 L387.7,117.9 L388.5,118.4 L389.4,118.8 L390.3,119.3 L391.2,119.7 L392.1,120.2 L393.0,120.7 L393.8,121.3 L394.6,121.8 L395.5,122.3 L396.4,122.8 L397.2,123.3 L398.1,123.8 L399.0,124.2 L399.9,124.6 L400.9,124.9 L401.8,125.3 L402.8,125.6 L403.7,125.9 L404.7,126.1 L405.7,126.4 L406.6,126.6 L407.6,126.9 L408.5,127.2 L409.5,127.5 L410.4,127.8 L411.4,128.1 L412.3,128.5 L413.3,128.8 L414.2,129.1 L415.2,129.3 L416.2,129.6 L417.1,129.8 L418.1,130.0 L419.1,130.2 L420.1,130.3 L421.1,130.5 L422.1,130.6 L423.0,130.7 L423.9,130.8 L424.7,130.9 L425.6,131.0 L426.80,130.00 L428.60,132.30 L431.40,131.80 L435.00,132.70 L438.60,133.60 L441.40,132.70 L445.90,131.80 L449.50,133.60 L452.30,136.40 L455.90,136.40 L459.50,135.50 L463.20,134.50 L466.80,133.60 L470.00,133.50 L473.00,134.00 L476.00,136.00 L479.00,136.50 L482.00,136.00 L486.00,135.00 L490.00,136.00 L494.00,135.00 L498.00,137.00 L500.00,139.50 L503.00,137.00 L506.00,136.00 L509.00,136.50 L512.00,135.00 L514.00,134.00 L516.50,132.50 L518.00,134.00 L519.00,137.50 L519.60,141.00" stroke="#4a4a4a"/>
<path d="M55.5,229.5 L55.8,228.3 L56.1,227.6 L56.6,226.9 L57.2,226.3 L58.0,225.7 L58.8,225.2 L59.6,224.6 L60.2,223.9 L60.8,223.1 L61.3,222.3 L61.8,221.4 L62.1,220.5 L62.5,219.5 L62.8,218.6 L63.1,217.6 L63.3,216.7 L63.5,215.7 L63.7,214.7 L63.9,213.7 L64.1,212.7 L64.3,211.8 L64.5,210.8 L64.7,209.8 L64.9,208.8 L65.0,207.8 L65.2,206.8 L65.4,205.9 L65.7,204.9 L65.9,203.9 L66.1,202.9 L66.3,202.0 L66.6,201.0 L66.8,200.0 L67.1,199.1 L67.3,198.1 L67.6,197.1 L67.8,196.1 L68.0,195.2 L68.3,194.2 L68.5,193.2 L68.8,192.3 L69.0,191.3 L69.2,190.3 L69.5,189.3 L69.7,188.4 L69.9,187.4 L70.2,186.4 L70.4,185.5 L70.7,184.5 L70.9,183.5 L71.1,182.5 L71.4,181.6 L71.6,180.6 L71.9,179.6 L72.1,178.7 L72.3,177.7 L72.6,176.7 L72.8,175.8 L73.1,174.8 L73.3,173.8 L73.6,172.8 L73.8,171.9 L74.1,170.9 L74.3,169.9 L74.6,169.0 L74.8,168.0 L75.1,167.1 L75.4,166.1 L75.7,165.1 L76.0,164.2 L76.2,163.2 L76.5,162.3 L76.8,161.3 L77.1,160.3 L77.4,159.4 L77.7,158.4 L78.0,157.5 L78.3,156.5 L78.7,155.6 L79.0,154.6 L79.3,153.7 L79.6,152.8 L80.0,151.8 L80.3,150.9 L80.7,149.9 L81.1,149.0 L81.4,148.1 L81.8,147.2 L82.2,146.3 L82.7,145.4 L83.1,144.5 L83.6,143.6 L84.1,142.7 L84.6,141.9 L85.1,141.0 L85.6,140.1 L86.2,139.3 L86.8,138.5 L87.4,137.7 L88.1,137.0 L88.8,136.4 L89.6,135.8 L90.5,135.3 L91.4,135.0 L92.3,134.8 L93.3,134.8 L94.2,135.0 L95.2,135.2 L96.2,135.4 L97.1,135.6 L98.1,135.8 L99.1,136.1 L100.0,136.5 L100.9,136.9 L101.8,137.3 L102.7,137.8 L103.6,138.2 L104.5,138.6 L105.4,139.0 L106.3,139.4 L107.3,139.7 L108.2,140.0 L109.2,140.3 L110.2,140.5 L111.2,140.7 L112.1,140.9 L113.1,141.0 L114.1,141.1 L115.1,141.1 L116.1,141.1 L117.1,141.0 L118.1,140.9 L119.1,140.8 L120.1,140.7 L121.1,140.5 L122.1,140.3 L123.0,140.1 L124.0,139.9 L125.0,139.7 L126.0,139.5 L126.9,139.2 L127.9,139.0 L128.9,138.8 L129.8,138.5 L130.8,138.3 L131.8,138.0 L132.8,137.8 L133.7,137.6 L134.7,137.4 L135.7,137.2 L136.7,137.1 L137.7,136.9 L138.7,136.8 L139.7,136.7 L140.7,136.6 L141.7,136.5 L142.6,136.4 L143.6,136.3 L144.6,136.2 L145.6,136.1 L146.6,136.0 L147.6,136.0 L148.6,135.9 L149.6,135.8 L150.6,135.7 L151.6,135.6 L152.6,135.6 L153.6,135.5 L154.6,135.4 L155.6,135.3 L156.6,135.3 L157.6,135.2 L158.6,135.2 L159.6,135.1 L160.6,135.1 L161.6,135.0 L162.6,135.0 L163.6,135.0 L164.6,135.0 L165.6,135.0 L166.6,135.1 L167.6,135.1 L168.6,135.1 L169.6,135.2 L170.6,135.3 L171.6,135.3 L172.6,135.4 L173.6,135.5 L174.6,135.6 L175.6,135.7 L176.6,135.8 L177.6,135.8 L178.6,135.9 L179.6,136.0 L180.6,136.1 L181.5,136.2 L182.5,136.3 L183.5,136.4 L184.5,136.5 L185.5,136.6 L186.5,136.7 L187.5,136.9 L188.5,137.0 L189.5,137.1 L190.5,137.3 L191.5,137.5 L192.4,137.7 L193.4,137.9 L194.4,138.1 L195.4,138.4 L196.3,138.6 L197.3,138.9 L198.2,139.2 L199.2,139.5 L200.1,139.8 L201.1,140.2 L202.0,140.5 L203.0,140.8 L203.9,141.1 L204.9,141.4 L205.8,141.7 L206.8,142.0 L207.8,142.3 L208.7,142.6 L209.7,142.8 L210.6,143.1 L211.6,143.4 L212.6,143.7 L213.5,143.9 L214.5,144.2 L215.5,144.4 L216.4,144.7 L217.4,144.9 L218.4,145.1 L219.3,145.4 L220.3,145.6 L221.3,145.8 L222.3,146.0 L223.3,146.2 L224.2,146.4 L225.2,146.7 L226.2,146.9 L227.2,147.1 L228.1,147.2 L229.1,147.4 L230.1,147.5 L231.1,147.7 L232.1,147.7 L233.1,147.8 L234.1,147.7 L235.1,147.6 L236.0,147.4 L237.0,147.1 L237.9,146.8 L238.9,146.4 L239.8,146.0 L240.7,145.6 L241.6,145.1 L242.4,144.6 L243.3,144.1 L244.1,143.6 L244.9,143.0 L245.8,142.4 L246.6,141.8 L247.4,141.2 L248.1,140.6 L248.9,140.0 L249.7,139.3 L250.4,138.7 L251.2,138.0 L251.9,137.3 L252.6,136.6 L253.3,135.9 L254.0,135.2 L254.7,134.4 L255.4,133.7 L256.1,133.0 L256.7,132.2 L257.4,131.5 L258.1,130.8 L258.8,130.1 L259.5,129.3 L260.2,128.6 L260.9,128.0 L261.7,127.3 L262.4,126.6 L263.2,126.0 L264.0,125.3 L264.7,124.7 L265.5,124.1 L266.3,123.5 L267.1,122.8 L267.8,122.2 L268.6,121.6 L269.4,121.0 L270.2,120.4 L271.0,119.8 L271.9,119.3 L272.8,118.8 L273.7,118.4 L274.6,118.0 L275.5,117.6 L276.5,117.3 L277.4,117.0 L278.4,116.7 L279.3,116.4 L280.3,116.2 L281.3,116.1 L282.3,116.0 L283.3,116.0 L284.2,116.1 L285.2,116.3 L286.2,116.6 L287.1,116.9 L288.0,117.3 L288.9,117.7 L289.8,118.1 L290.7,118.6 L291.6,119.1 L292.4,119.7 L293.2,120.3 L294.0,120.9 L294.7,121.5 L295.5,122.2 L296.2,122.9 L296.9,123.6 L297.6,124.3 L298.3,125.1 L298.9,125.8 L299.6,126.6 L300.2,127.3 L300.9,128.1 L301.5,128.9 L302.1,129.7 L302.7,130.5 L303.3,131.3 L303.9,132.1 L304.5,132.9 L305.1,133.7 L305.7,134.5 L306.2,135.4 L306.7,136.2 L307.3,137.0 L307.8,137.9 L308.4,138.7 L308.9,139.5 L309.5,140.4 L310.1,141.2 L310.7,142.0 L311.3,142.8 L311.9,143.6 L312.5,144.4 L313.1,145.2 L313.7,146.0 L314.3,146.8 L314.9,147.6 L315.4,148.4 L316.0,149.2 L316.6,150.0 L317.1,150.9 L317.7,151.7 L318.3,152.5 L318.8,153.4 L319.4,154.2 L319.9,155.0 L320.5,155.9 L321.0,156.7 L321.6,157.5 L322.1,158.4 L322.7,159.2 L323.2,160.0 L323.8,160.9 L324.4,161.7 L325.0,162.5 L325.6,163.3 L326.3,164.0 L326.9,164.8 L327.6,165.5 L328.3,166.2 L329.0,167.0 L329.7,167.7 L330.4,168.4 L331.1,169.0 L331.9,169.7 L332.6,170.3 L333.4,171.0 L334.2,171.6 L335.0,172.1 L335.9,172.7 L336.7,173.2 L337.6,173.7 L338.5,174.1 L339.4,174.6 L340.3,175.0 L341.2,175.3 L342.2,175.6 L343.1,175.9 L344.1,176.1 L345.1,176.2 L346.1,176.2 L347.1,176.2 L348.1,176.1 L349.1,175.9 L350.0,175.8 L351.0,175.5 L352.0,175.3 L352.9,175.0 L353.9,174.6 L354.8,174.2 L355.7,173.8 L356.6,173.3 L357.4,172.8 L358.2,172.2 L359.0,171.6 L359.8,171.0 L360.6,170.4 L361.4,169.8 L362.1,169.1 L362.8,168.4 L363.6,167.7 L364.3,167.0 L365.0,166.3 L365.6,165.5 L366.3,164.8 L366.9,164.0 L367.6,163.3 L368.2,162.5 L368.9,161.8 L369.5,161.0 L370.2,160.2 L370.8,159.5 L371.5,158.7 L372.2,158.0 L372.8,157.2 L373.5,156.5 L374.2,155.8 L374.9,155.0 L375.5,154.3 L376.2,153.6 L376.9,152.8 L377.6,152.1 L378.2,151.3 L378.8,150.5 L379.5,149.8 L380.1,149.0 L380.7,148.2 L381.3,147.4 L381.8,146.5 L382.4,145.7 L383.0,144.9 L383.5,144.1 L384.1,143.2 L384.6,142.4 L385.2,141.6 L385.8,140.7 L386.3,139.9 L386.9,139.1 L387.5,138.3 L388.0,137.5 L388.6,136.7 L389.3,135.9 L389.9,135.1 L390.5,134.3 L391.2,133.6 L391.8,132.8 L392.5,132.1 L393.1,131.3 L393.8,130.5 L394.4,129.7 L395.0,129.0 L395.7,128.2 L396.4,127.5 L397.0,126.7 L397.7,126.0 L398.4,125.3 L399.1,124.6 L399.8,123.9 L400.6,123.2 L401.3,122.6 L402.1,121.9 L402.9,121.3 L403.7,120.8 L404.6,120.2 L405.4,119.7 L406.3,119.2 L407.2,118.8 L408.0,118.3 L408.9,117.8 L409.8,117.2 L410.6,116.7 L411.5,116.2 L412.3,115.7 L413.2,115.2 L414.0,114.6 L414.9,114.1 L415.8,113.6 L416.6,113.1 L417.5,112.7 L418.4,112.2 L419.3,111.8 L420.2,111.3 L421.1,111.0 L422.0,110.6 L423.0,110.3 L423.9,110.0 L424.9,109.7 L425.9,109.5 L426.9,109.3 L427.9,109.1 L428.8,109.0 L429.8,108.8 L430.7,108.7 L431.6,108.5 L432.2,108.4 L432.9,108.3 L434.00,107.80 L440.00,108.60 L445.50,107.70 L450.00,110.50 L454.50,110.50 L459.10,111.40 L461.80,110.60 L466.40,113.20 L470.90,114.50 L473.60,115.00 L476.40,117.30 L480.90,117.70 L485.00,118.90 L488.10,119.60 L491.20,120.00 L495.00,122.00 L498.90,123.50 L502.70,125.00 L506.60,124.30 L510.40,125.40 L514.30,126.20 L517.40,127.00 L520.50,128.50" stroke="#ff0000"/>
</g>
<g font-family="Liberation Sans, sans-serif" font-size="12" font-weight="bold" fill="#000" text-anchor="end" letter-spacing="0.45">
<text x="43.6" y="19.6">2.0</text>
<text x="43.6" y="49.7">1.5</text>
<text x="43.6" y="79.8">1.0</text>
<text x="43.6" y="110.0">0.5</text>
<text x="43.6" y="140.1">0.0</text>
<text x="43.6" y="170.2">-0.5</text>
<text x="43.6" y="200.4">-1.0</text>
<text x="43.6" y="230.5">-1.5</text>
<text x="43.6" y="260.6">-2.0</text>
<text x="43.6" y="290.8">-2.5</text>
<text x="43.6" y="320.9">-3.0</text>
</g>
<g font-family="Liberation Sans, sans-serif" font-size="12" font-weight="bold" fill="#000" text-anchor="middle" letter-spacing="0.5">
<text x="55.8" y="155.9">300</text>
<text x="159.2" y="155.9">400</text>
<text x="262.6" y="155.9">500</text>
<text x="366.1" y="155.9">600</text>
<text x="469.5" y="155.9">700</text>
</g>
<text font-family="Liberation Sans, sans-serif" font-size="11.6" font-weight="bold" x="477" y="182.6" transform="translate(477,0) scale(1.05,1) translate(-477,0)">λ</text>
<text font-family="Liberation Sans, sans-serif" font-size="13" font-weight="bold" x="487.8" y="183" letter-spacing="0.2">(nm)</text>
<text font-family="Liberation Sans, sans-serif" font-size="12" font-weight="bold" letter-spacing="0.55" transform="translate(16.6,210.3) rotate(-90)">Δε (M<tspan font-size="8.5" dy="-4.2">−1</tspan><tspan dy="4.2">cm</tspan><tspan font-size="8.5" dy="-4.2">−1</tspan><tspan dy="4.2">)</tspan></text>
<line x1="280.5" y1="257.20" x2="296.7" y2="257.20" stroke="#000000" stroke-width="2.2"/>
<text font-family="Liberation Sans, sans-serif" font-size="11.9" font-weight="bold" x="297.8" y="261.00">Cu(II) : L3(16) = 2:1, pH=11.0</text>
<line x1="280.5" y1="279.65" x2="296.7" y2="279.65" stroke="#767676" stroke-width="2.2"/>
<text font-family="Liberation Sans, sans-serif" font-size="11.9" font-weight="bold" x="297.8" y="283.45">Cu(II) : Ac-SarHAH-NH2 = 1:1, pH=11.1</text>
<line x1="280.5" y1="302.10" x2="296.7" y2="302.10" stroke="#9eaecb" stroke-width="2.2"/>
<text font-family="Liberation Sans, sans-serif" font-size="11.9" font-weight="bold" x="297.8" y="305.90">Cu(II) : Ac-GNGAHKPG-NH2 = 1:1, pH=11.1</text>
<line x1="280.5" y1="324.55" x2="296.7" y2="324.55" stroke="#4a4a4a" stroke-width="2.2"/>
<text font-family="Liberation Sans, sans-serif" font-size="11.9" font-weight="bold" x="297.8" y="328.35">Cu(II) : Ac-PHAAA-NH2 = 1:2, pH=11.1</text>
<line x1="280.5" y1="347.00" x2="296.7" y2="347.00" stroke="#ff0000" stroke-width="2.2"/>
<text font-family="Liberation Sans, sans-serif" font-size="11.9" font-weight="bold" x="297.8" y="350.80">summed spectrum</text>
<text font-family="Liberation Serif, serif" font-size="13.5" text-anchor="middle" x="274.3" y="382.7">(b)</text>
</svg></body></html>
